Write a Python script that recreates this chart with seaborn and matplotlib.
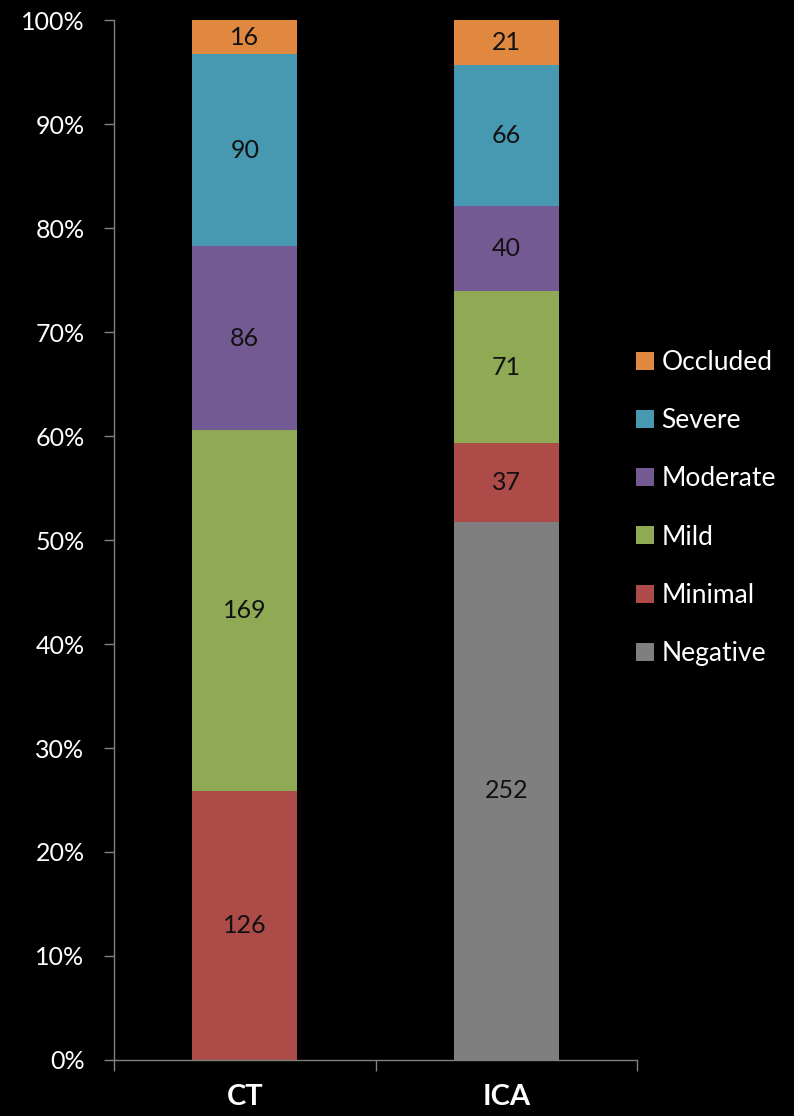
import numpy as np
import pandas as pd
import matplotlib
matplotlib.use("Agg")
import matplotlib.pyplot as plt
from matplotlib.patches import Patch
import seaborn as sns

categories = ["CT", "ICA"]
series_names = ["Negative", "Minimal", "Mild", "Moderate", "Severe", "Occluded"]
negative = [0, 252]
minimal = [126, 37]
mild = [169, 71]
moderate = [86, 40]
severe = [90, 66]
occluded = [16, 21]
colors = ["#7F7F7F", "#AD4B49", "#8FA955", "#735A93", "#4699B0", "#E0883F"]
yticks = [0, 10, 20, 30, 40, 50, 60, 70, 80, 90, 100]

sns.set_theme(style="dark")
plt.rcParams['font.family'] = ['Lato', 'DejaVu Sans']

counts = pd.DataFrame(
    [negative, minimal, mild, moderate, severe, occluded],
    index=series_names, columns=categories)
pct = counts / counts.sum(axis=0) * 100
cum = pct.cumsum(axis=0)

fig = plt.figure(figsize=(7.94, 11.16), dpi=100, facecolor="black")
ax = fig.add_axes([0.1436, 0.0502, 0.8023 - 0.1436, 0.982 - 0.0502])
ax.set_facecolor("black")

# draw from top layer down so overlapping bars form a stack
for name, col in zip(series_names[::-1], colors[::-1]):
    df = pd.DataFrame({"cat": categories, "val": cum.loc[name].values})
    sns.barplot(data=df, x="cat", y="val", color=col, width=0.4,
                saturation=1, ax=ax, edgecolor="none", linewidth=0)

# value labels
for j, cat in enumerate(categories):
    for name in series_names:
        v = counts.loc[name, cat]
        if v == 0:
            continue
        top = cum.loc[name, cat]
        mid = top - pct.loc[name, cat] / 2
        ax.text(j, mid, f"{v}", ha="center", va="center",
                fontsize=18, color="#111111")

ax.set_xlim(-0.5, 1.5)
ax.set_ylim(0, 100)
ax.set_yticks(yticks)
ax.set_yticklabels([f"{t}%" for t in yticks])
ax.set_xticks([-0.5, 0.5, 1.5], minor=False)
ax.set_xticklabels(["", "", ""])
ax.set_xticks([0, 1], minor=True)
ax.set_xticklabels(categories, minor=True)
ax.set_xlabel("")
ax.set_ylabel("")
ax.grid(False)

for s in ["top", "right"]:
    ax.spines[s].set_visible(False)
for s in ["left", "bottom"]:
    ax.spines[s].set_visible(True)
    ax.spines[s].set_color("#808080")
    ax.spines[s].set_linewidth(1)

ax.tick_params(axis="y", which="major", direction="out", length=7.2, width=1,
               color="#808080", labelcolor="white", labelsize=18, pad=14, left=True)
ax.tick_params(axis="x", which="major", direction="out", length=8, width=1,
               color="#808080", bottom=True)
ax.tick_params(axis="x", which="minor", length=0, labelcolor="white",
               labelsize=21, pad=17)
for lab in ax.get_xticklabels(minor=True):
    lab.set_fontweight("bold")

handles = [Patch(facecolor=c, edgecolor="none", label=n)
           for n, c in zip(series_names[::-1], colors[::-1])]
leg = fig.legend(handles=handles, loc="center left",
                 bbox_to_anchor=(612 / 794, 1 - 508 / 1116), frameon=False,
                 fontsize=19, labelcolor="white", handlelength=0.68,
                 handleheight=0.68, handletextpad=0.3, labelspacing=1.26)

fig.savefig("out.png", dpi=100, facecolor="black")
